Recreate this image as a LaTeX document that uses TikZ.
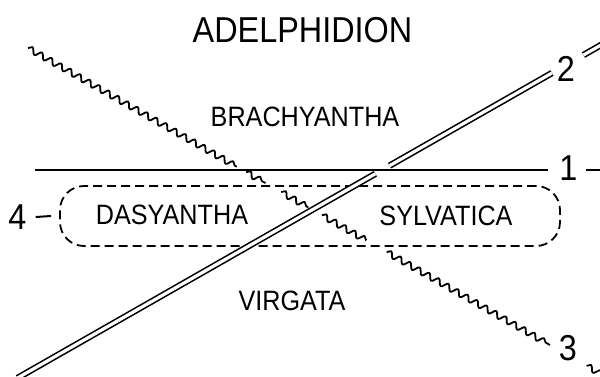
\documentclass[tikz,border=0pt]{standalone}
\usepackage{fontspec}
\setmainfont{Liberation Sans}[FakeStretch=0.9]
\usetikzlibrary{calc,decorations.pathmorphing}

\begin{document}
\begin{tikzpicture}[x=1pt, y=-1pt,
    label/.style={inner sep=0pt, font=\fontsize{28}{30}\selectfont},
    bigtext/.style={inner sep=0pt, font=\fontsize{36}{38}\selectfont},
    plainline/.style={line width=2pt},
    wavy/.style={line width=1.8pt, line join=round, decorate,
                 decoration={snake, segment length=11pt, amplitude=3pt}},
    twinline/.style={double, line width=1.6pt, double distance=3.2pt},
    groupbox/.style={draw, line width=1.8pt, dash pattern=on 9pt off 5pt,
                     rounded corners=24pt, minimum width=500pt, minimum height=60pt}]
  \useasboundingbox (0,0) rectangle (600,377);
  \clip (0,0) rectangle (600,377);

  % Title and group names
  \node[bigtext] (title) at (302.5, 30)  {ADELPHIDION};
  \node[label]   (brachy) at (305, 117)  {BRACHYANTHA};
  \node[label]   (dasy)   at (172, 215)  {DASYANTHA};
  \node[label]   (sylv)   at (446, 216)  {SYLVATICA};
  \node[label]   (virg)   at (292, 301)  {VIRGATA};

  % Line numbers
  \node[bigtext] (n1) at (568.5, 168.5) {1};
  \node[bigtext] (n2) at (566, 69)      {2};
  \node[bigtext] (n3) at (568, 348)     {3};
  \node[bigtext] (n4) at (17.5, 217)    {4};

  % Dashed group round Dasyantha and Sylvatica
  \node[groupbox] (grp) at (310, 216) {};
  \draw[plainline] ([xshift=9pt]n4.east) -- ([xshift=-8pt]grp.west);

  % Line 1 (plain)
  \coordinate (hA) at (35, 170);
  \coordinate (hB) at (610, 170);
  \draw[plainline] (hA) -- ([xshift=-11.5pt]n1.west |- hA);
  \draw[plainline] ([xshift=8pt]n1.east |- hA) -- (hB);

  % Line 3 (wavy), broken where it crosses the others
  \coordinate (wA) at (28, 48);
  \coordinate (wB) at (550, 345);
  \foreach \a/\b in {0/0.4, 0.418/0.455, 0.485/0.537, 0.563/0.648, 0.687/1}
    \draw[wavy] ($(wA)!\a!(wB)$) -- ($(wA)!\b!(wB)$);
  \draw[wavy] ($(wA)!1.07!(wB)$) -- ($(wA)!1.13!(wB)$);

  % Line 2 (double), broken at line 1
  \coordinate (dA) at (28, 372);
  \coordinate (dB) at (552, 73);
  \draw[twinline] ($(dA)!-0.02!(dB)$) -- ($(dA)!0.663!(dB)$);
  \draw[twinline] ($(dA)!0.69!(dB)$) -- (dB);
  \draw[twinline] ($(dA)!1.06!(dB)$) -- ($(dA)!1.12!(dB)$);
\end{tikzpicture}
\end{document}
